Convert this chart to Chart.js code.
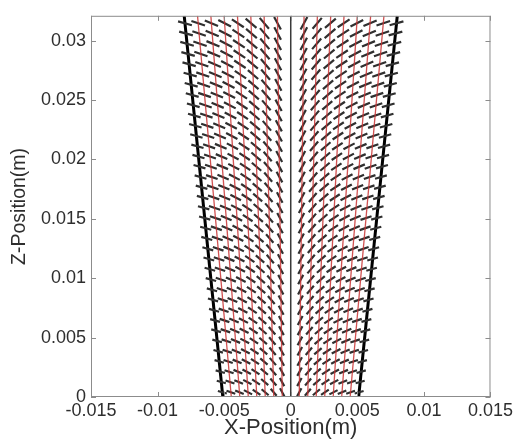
<!DOCTYPE html>
<html>
<head>
<meta charset="utf-8">
<script src="https://cdn.jsdelivr.net/npm/chart.js@4"></script>
<style>
  html, body { margin: 0; padding: 0; background: #ffffff; }
  #wrap { width: 516px; height: 446px; }
</style>
</head>
<body>
<div id="wrap"><canvas id="c" width="516" height="446"></canvas></div>
<script>
// ---- values ----
const xTickValues = [-0.015, -0.01, -0.005, 0, 0.005, 0.01, 0.015];
const yTickValues = [0, 0.005, 0.01, 0.015, 0.02, 0.025, 0.03];
const zTop = 0.0321;                 // top of the plotted domain (m)
const halfWidthBottom = 0.0051;      // nozzle half-width at z = 0 (m)
const halfWidthTop = 0.0080;         // nozzle half-width at z = zTop (m)
const columnFractions = [0.125, 0.25, 0.375, 0.5, 0.625, 0.75, 0.875, 1.0]; // mesh columns as fraction of half-width
const redColumnFractions = [0.125, 0.25, 0.375, 0.5, 0.625, 0.75, 0.875];   // red mesh lines (left & right mirrored)
const dashAnglesDeg = [62, 50, 41, 34, 28, 23, 19, 16];  // director tilt per column (left half, mirrored on right)
const rowZ = [0.00040, 0.00126, 0.00213, 0.00299, 0.00385, 0.00472, 0.00558, 0.00644,
              0.00730, 0.00817, 0.00903, 0.00989, 0.01076, 0.01162, 0.01248, 0.01335,
              0.01421, 0.01507, 0.01593, 0.01680, 0.01766, 0.01852, 0.01939, 0.02025,
              0.02111, 0.02198, 0.02284, 0.02370, 0.02456, 0.02543, 0.02629, 0.02715,
              0.02802, 0.02888, 0.02974, 0.03061, 0.03147];
const dashRelLength = 0.068;         // dash half-length relative to local half-width

// ---- build datasets ----
function halfWidthAt(z) { return halfWidthBottom + (halfWidthTop - halfWidthBottom) * (z / zTop); }

const datasets = [];
// red mesh lines
redColumnFractions.forEach(s => {
  [-1, 1].forEach(side => {
    datasets.push({
      data: [{x: side * s * halfWidthBottom, y: 0}, {x: side * s * halfWidthTop, y: zTop}],
      borderColor: 'rgba(200,50,50,0.85)', borderWidth: 1.3, showLine: true, pointRadius: 0
    });
  });
});
// dashes (director field)
const dashPts = [];
const pxPerX = 400 / 0.03, pxPerY = 364 / 0.03;
rowZ.forEach(z => {
  const w = halfWidthAt(z);
  columnFractions.forEach((s, i) => {
    [-1, 1].forEach(side => {
      const th = dashAnglesDeg[i] * Math.PI / 180;
      const cx = side * s * w;
      const hl = dashRelLength * w;
      const dx = hl * Math.cos(th);
      const dy = hl * Math.sin(th) * pxPerX / pxPerY;
      dashPts.push({x: cx - dx * side, y: z - dy});
      dashPts.push({x: cx + dx * side, y: z + dy});
      dashPts.push({x: cx, y: null});
    });
  });
});
datasets.push({data: dashPts, borderColor: '#303030', borderWidth: 2.2, showLine: true, pointRadius: 0, spanGaps: false});
// nozzle walls
[-1, 1].forEach(side => {
  datasets.push({
    data: [{x: side * halfWidthBottom, y: 0}, {x: side * halfWidthTop, y: zTop}],
    borderColor: '#000000', borderWidth: 3, showLine: true, pointRadius: 0
  });
});
// centre line
datasets.push({data: [{x: 0, y: 0}, {x: 0, y: zTop}], borderColor: '#3a3a3a', borderWidth: 1.5, showLine: true, pointRadius: 0});

const boxPlugin = {
  id: 'box',
  afterDatasetsDraw(chart) {
    const {ctx, chartArea: a, scales} = chart;
    ctx.save();
    ctx.strokeStyle = '#8c8c8c';
    ctx.lineWidth = 1;
    ctx.strokeRect(a.left + 0.5, a.top + 0.5, a.right - a.left - 1, a.bottom - a.top - 1);
    const tl = 5;
    ctx.beginPath();
    xTickValues.forEach(v => {
      const px = Math.round(scales.x.getPixelForValue(v)) + 0.5;
      ctx.moveTo(px, a.bottom); ctx.lineTo(px, a.bottom - tl);
      ctx.moveTo(px, a.top); ctx.lineTo(px, a.top + tl);
    });
    yTickValues.forEach(v => {
      const py = Math.round(scales.y.getPixelForValue(v)) + 0.5;
      ctx.moveTo(a.left, py); ctx.lineTo(a.left + tl, py);
      ctx.moveTo(a.right, py); ctx.lineTo(a.right - tl, py);
    });
    ctx.stroke();
    ctx.restore();
  }
};

const fontFam = '"Liberation Sans", Arial, sans-serif';
new Chart(document.getElementById('c'), {
  type: 'scatter',
  data: {datasets},
  options: {
    responsive: false,
    animation: false,
    layout: {padding: {left: 0, top: 7, right: 25, bottom: 0}},
    plugins: {legend: {display: false}, tooltip: {enabled: false}},
    scales: {
      x: {
        type: 'linear', min: -0.015, max: 0.015,
        afterBuildTicks(s) { s.ticks = xTickValues.map(v => ({value: v})); },
        afterFit(s) { s.height = 49; },
        grid: {display: false, drawTicks: false},
        border: {display: false},
        ticks: {color: '#2e2e2e', font: {family: fontFam, size: 18}, padding: 3,
                maxRotation: 0, autoSkip: false, callback: v => String(+v.toFixed(4))},
        title: {display: true, text: 'X-Position(m)', color: '#2e2e2e',
                font: {family: fontFam, size: 22}, padding: {top: 0, bottom: 5}}
      },
      y: {
        type: 'linear', min: 0, max: zTop,
        afterBuildTicks(s) { s.ticks = yTickValues.map(v => ({value: v})); },
        afterFit(s) { s.width = 91; },
        grid: {display: false, drawTicks: false},
        border: {display: false},
        ticks: {color: '#2e2e2e', font: {family: fontFam, size: 18}, padding: 5,
                autoSkip: false, callback: v => String(+v.toFixed(4))},
        title: {display: true, text: 'Z-Position(m)', color: '#2e2e2e',
                font: {family: fontFam, size: 19.5}, padding: {top: 8, bottom: 0}}
      }
    }
  },
  plugins: [boxPlugin]
});
</script>
</body>
</html>
